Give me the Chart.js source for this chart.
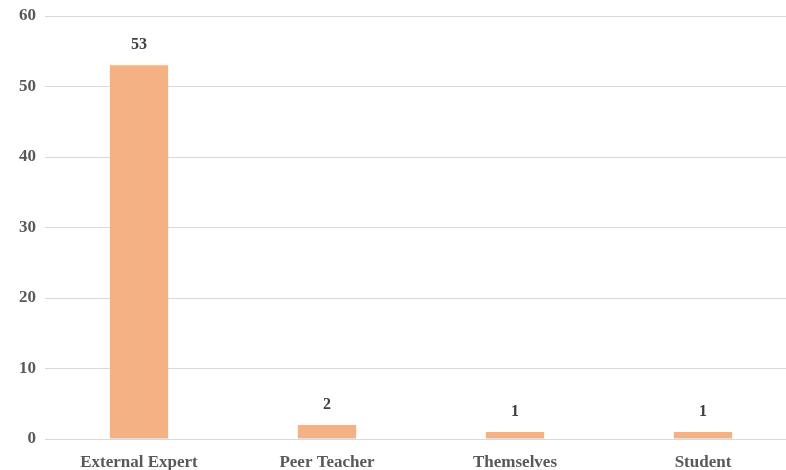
<!DOCTYPE html>
<html>
<head>
<meta charset="utf-8">
<script src="https://cdn.jsdelivr.net/npm/chart.js@4/dist/chart.umd.min.js"></script>
<style>
  html, body { margin: 0; padding: 0; background: #ffffff; overflow: hidden; }
  #wrap { width: 800px; height: 470px; position: relative; }
</style>
</head>
<body>
<div id="wrap"><canvas id="c" width="800" height="470"></canvas></div>
<script>
const categories = ['External Expert', 'Peer Teacher', 'Themselves', 'Student'];
const counts = [53, 2, 1, 1];
const yTicks = [0, 10, 20, 30, 40, 50, 60];

const FONT = '"Liberation Serif", "Times New Roman", serif';

// Writes each bar's value just above it
const valueLabels = {
  id: 'valueLabels',
  afterDatasetsDraw(chart) {
    const ctx = chart.ctx;
    const meta = chart.getDatasetMeta(0);
    ctx.save();
    ctx.font = 'bold 16px ' + FONT;
    ctx.fillStyle = '#404040';
    ctx.textAlign = 'center';
    ctx.textBaseline = 'middle';
    meta.data.forEach((bar, i) => {
      ctx.fillText(String(counts[i]), bar.x, bar.y - 20);
    });
    ctx.restore();
  }
};

new Chart(document.getElementById('c'), {
  type: 'bar',
  data: {
    labels: categories,
    datasets: [{
      data: counts,
      backgroundColor: '#F4B183',
      borderWidth: 0,
      categoryPercentage: 1,
      barPercentage: 0.31
    }]
  },
  options: {
    responsive: false,
    animation: false,
    layout: { padding: { top: 16, right: 3, left: 0, bottom: 0 } },
    plugins: { legend: { display: false }, tooltip: { enabled: false } },
    scales: {
      x: {
        grid: { display: false, drawTicks: false },
        border: { display: false },
        ticks: {
          color: '#595959',
          font: { family: FONT, size: 17, weight: 'bold' },
          padding: 13,
          maxRotation: 0
        },
        afterFit(scale) { scale.height = 31; }
      },
      y: {
        min: 0,
        max: 60,
        afterBuildTicks(scale) { scale.ticks = yTicks.map(v => ({ value: v })); },
        grid: { color: '#D9D9D9', lineWidth: 1, drawTicks: false },
        border: { display: false },
        ticks: {
          color: '#595959',
          font: { family: FONT, size: 17, weight: 'bold' },
          padding: 9
        },
        afterFit(scale) {
          scale.width = 45;
          scale.paddingTop = 0;
          scale.paddingBottom = 0;
        }
      }
    }
  },
  plugins: [valueLabels]
});
</script>
</body>
</html>
